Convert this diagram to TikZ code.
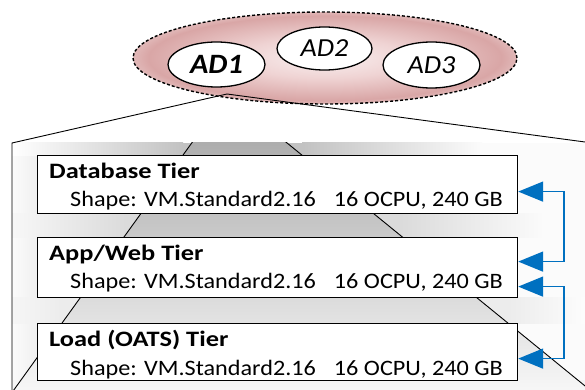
\documentclass[tikz,border=0pt]{standalone}
\usepackage{fontspec}
\setmainfont{Carlito}
\newfontfamily\tierfont[FakeStretch=1.1]{Carlito}
\newfontfamily\titlefont[FakeStretch=1.2]{Carlito}
\newfontfamily\adfont[FakeStretch=1.08]{Carlito}
\usetikzlibrary{shapes.geometric,arrows.meta}
\definecolor{pinkin}{HTML}{F9F0F0}
\definecolor{pinkmid}{HTML}{EFD3D3}
\definecolor{pinkout}{HTML}{D9A6A6}
\definecolor{arrowblue}{HTML}{0070C0}
\pgfdeclareradialshading{adshade}{\pgfpoint{0bp}{0bp}}{color(0bp)=(pinkin); color(11bp)=(pinkmid); color(23bp)=(pinkout); color(25bp)=(pinkout!80!white); color(50bp)=(pinkout!80!white)}
\begin{document}
\begin{tikzpicture}[x=1pt,y=-1pt,
  adnode/.style={ellipse, draw, fill=white, line width=1.3pt, inner sep=0pt,
    font=\adfont\fontsize{26}{28}\selectfont\itshape},
  tierbox/.style={draw, fill=white, line width=1.2pt, minimum width=480pt,
    inner sep=0pt, anchor=north west},
  titletext/.style={inner sep=0pt, anchor=base west,
    font=\titlefont\fontsize{22}{24}\selectfont\bfseries},
  spectext/.style={inner sep=0pt, font=\tierfont\fontsize{22}{24}\selectfont},
  bluelink/.style={draw=arrowblue, line width=1.6pt,
    >={Triangle[length=25pt,width=20pt]}, <->},
  thinline/.style={line width=0.9pt}
]
\useasboundingbox (0,0) rectangle (585,390);

% availability domains
\shade[shading=adshade] (325,58) ellipse [x radius=192pt, y radius=46pt];
\draw[line width=1.4pt, dash pattern=on 3pt off 2pt] (325,58) ellipse [x radius=192pt, y radius=46pt];
\node[adnode, minimum width=97pt, minimum height=45pt,
  font=\adfont\fontsize{28}{30}\selectfont\bfseries\itshape] (ad1) at (216.5,64.5) {AD1};
\node[adnode, minimum width=95pt, minimum height=43pt] (ad2) at (324.5,48.5) {AD2};
\node[adnode, minimum width=97pt, minimum height=46pt] (ad3) at (431.5,65) {AD3};

% coordinates of the zoom frame
\coordinate (apex) at (227,94);
\coordinate (pl) at (12,143);
\coordinate (pr) at (585,142);
\coordinate (pb) at (12,390);
\coordinate (fl) at (12,392.5);
\coordinate (fr) at (590,390);

% panel shading
\begin{scope}
\clip (12,143) rectangle (585,390);
\fill[gray!3] (12,143) rectangle (585,390);
\shade[left color=gray!3, right color=gray!12] (12,143) rectangle (37,390);
% band 1
\fill[gray!48] (12,143) rectangle (585,155);
\shade[left color=white, right color=gray!48] (12,143) rectangle (183,155);
\shade[left color=gray!48, right color=gray!3] (302,143) rectangle (482,155);
\fill[gray!3] (482,143) rectangle (585,155);
% band 2
\fill[gray!28] (12,213) rectangle (585,237);
\shade[left color=gray!6, right color=gray!28] (12,213) rectangle (124,237);
\shade[left color=gray!28, right color=gray!3] (402,213) rectangle (545,237);
\fill[gray!3] (545,213) rectangle (585,237);
% band 3
\fill[gray!15] (12,297) rectangle (585,323);
\shade[left color=gray!7, right color=gray!15] (12,297) rectangle (62,323);
\shade[left color=gray!15, right color=gray!2] (508,297) rectangle (585,323);
% band 4
\fill[gray!8] (12,380) rectangle (585,390);
% funnel
\shade[top color=gray!75, middle color=gray!27, bottom color=gray!6] (apex) -- (fl) -- (fr) -- cycle;
\draw[thinline] (apex) -- (fl);
\draw[thinline] (apex) -- (fr);
\end{scope}

% tiers
\node[tierbox, minimum height=58pt] (db) at (37,155) {};
\node[tierbox, minimum height=60pt] (app) at (37,237) {};
\node[tierbox, minimum height=57pt] (load) at (37,323) {};

\node[titletext] (dbt) at (49,178) {Database Tier};
\node[spectext, anchor=base west] (dbs) at (70,206) {Shape: VM.Standard2.16};
\node[spectext, anchor=base east] (dbc) at (503,206) {16 OCPU, 240 GB};

\node[titletext] (appt) at (49,260) {App/Web Tier};
\node[spectext, anchor=base west] (apps) at (70,288) {Shape: VM.Standard2.16};
\node[spectext, anchor=base east] (appc) at (503,288) {16 OCPU, 240 GB};

\node[titletext] (loadt) at (49,346) {Load (OATS) Tier};
\node[spectext, anchor=base west] (loads) at (70,375) {Shape: VM.Standard2.16};
\node[spectext, anchor=base east] (loadc) at (503,375) {16 OCPU, 240 GB};

% blue links
\draw[bluelink] ([yshift=6pt]app.east) -- ++(46,0) |- ([yshift=-7pt]db.east);
\draw[bluelink] ([yshift=-6.5pt]load.east) -- ++(46,0) |- ([yshift=-19pt]app.east);

% zoom frame
\draw[thinline] (pb) -- (pl) -- (apex) -- (pr);
\end{tikzpicture}
\end{document}
